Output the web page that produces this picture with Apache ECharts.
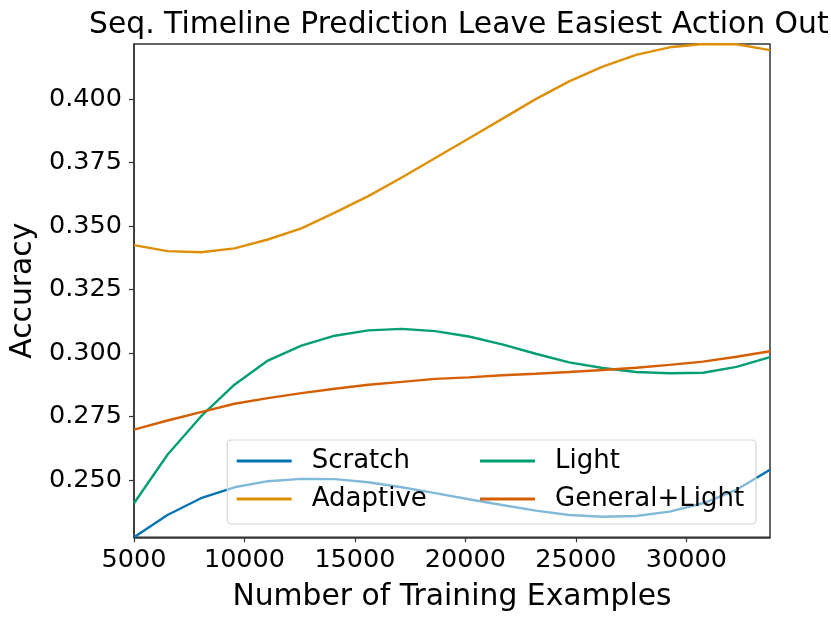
<!DOCTYPE html>
<html>
<head>
<meta charset="utf-8">
<script src="https://cdn.jsdelivr.net/npm/echarts@6/dist/echarts.min.js"></script>
<style>html,body{margin:0;padding:0;background:#fff}#c{width:831px;height:622px}</style>
</head>
<body>
<div id="c"></div>
<script>
const xValues = [5000, 6515, 8030, 9545, 11060, 12575, 14090, 15605, 17120, 18635, 20150, 21665, 23180, 24695, 26210, 27725, 29240, 30755, 32270, 33785];
const scratch = [0.2274, 0.2362, 0.2428, 0.2471, 0.2495, 0.2504, 0.2503, 0.2491, 0.2471, 0.2448, 0.2424, 0.2401, 0.2379, 0.2362, 0.2355, 0.2358, 0.2375, 0.2408, 0.2461, 0.2540];
const adaptive = [0.3425, 0.3401, 0.3397, 0.3412, 0.3447, 0.3491, 0.3553, 0.3618, 0.3691, 0.3768, 0.3845, 0.3922, 0.4000, 0.4070, 0.4128, 0.4174, 0.4204, 0.4217, 0.4216, 0.4193];
const light = [0.2408, 0.2599, 0.2750, 0.2875, 0.2970, 0.3029, 0.3068, 0.3089, 0.3095, 0.3086, 0.3065, 0.3034, 0.2997, 0.2963, 0.2941, 0.2925, 0.2920, 0.2922, 0.2945, 0.2984];
const generalLight = [0.2698, 0.2734, 0.2767, 0.2800, 0.2822, 0.2842, 0.2859, 0.2875, 0.2886, 0.2898, 0.2904, 0.2912, 0.2918, 0.2925, 0.2933, 0.2942, 0.2953, 0.2966, 0.2985, 0.3007];
const xTicks = [5000, 10000, 15000, 20000, 25000, 30000];
const yTicks = [0.250, 0.275, 0.300, 0.325, 0.350, 0.375, 0.400];
const seriesNames = ['Scratch', 'Adaptive', 'Light', 'General+Light'];
const colors = ['#0173b2', '#de8f05', '#029e73', '#d55e00'];
const allSeries = [scratch, adaptive, light, generalLight];

const FONT = 'DejaVu Sans';
const allVals = allSeries.flat();
const yMin = Math.min(...allVals), yMax = Math.max(...allVals);

const chart = echarts.init(document.getElementById('c'), null, {renderer: 'canvas'});
chart.setOption({
  animation: false,
  backgroundColor: '#fff',
  title: {
    text: 'Seq. Timeline Prediction Leave Easiest Action Out',
    left: 84, top: 5,
    textStyle: {fontFamily: FONT, fontSize: 29.8, fontWeight: 'normal', color: '#000'}
  },
  grid: {left: 134, top: 44, width: 636, height: 493.3, show: true, borderColor: '#333', borderWidth: 1.5, containLabel: false},
  xAxis: {
    type: 'value', min: xValues[0], max: xValues[xValues.length - 1],
    name: 'Number of Training Examples', nameLocation: 'middle', nameGap: 45,
    nameTextStyle: {fontFamily: FONT, fontSize: 29.8, color: '#000'},
    axisLine: {show: true, lineStyle: {color: '#333', width: 1.5}},
    axisTick: {show: true, inside: false, length: 5, lineStyle: {color: '#333', width: 1.2}, customValues: xTicks},
    axisLabel: {fontFamily: FONT, fontSize: 25.5, color: '#000', margin: 10, customValues: xTicks, formatter: v => String(v)},
    splitLine: {show: false}
  },
  yAxis: {
    type: 'value', min: yMin, max: yMax,
    name: 'Accuracy', nameLocation: 'middle', nameGap: 94, nameRotate: 90,
    nameTextStyle: {fontFamily: FONT, fontSize: 29.8, color: '#000'},
    axisLine: {show: true, lineStyle: {color: '#333', width: 1.5}},
    axisTick: {show: true, inside: false, length: 5, lineStyle: {color: '#333', width: 1.2}, customValues: yTicks},
    axisLabel: {fontFamily: FONT, fontSize: 25.5, color: '#000', margin: 12, customValues: yTicks, formatter: v => v.toFixed(3)},
    splitLine: {show: false}
  },
  legend: [
    {
      data: [seriesNames[0], seriesNames[1]], orient: 'vertical', left: 236.7, top: 442, padding: 0, itemGap: 0,
      itemWidth: 55, itemHeight: 2.8, icon: 'rect', z: 10,
      textStyle: {fontFamily: FONT, fontSize: 26, color: '#000', lineHeight: 38, padding: [0, 0, 0, 15]}
    },
    {
      data: [seriesNames[2], seriesNames[3]], orient: 'vertical', left: 480, top: 442, padding: 0, itemGap: 0,
      itemWidth: 55, itemHeight: 2.8, icon: 'rect', z: 10,
      textStyle: {fontFamily: FONT, fontSize: 26, color: '#000', lineHeight: 38, padding: [0, 0, 0, 15]}
    }
  ],
  graphic: [{
    type: 'rect', z: 5,
    shape: {x: 227.3, y: 440, width: 528.7, height: 84, r: 4},
    style: {fill: 'rgba(255,255,255,0.5)', stroke: '#d4d4d4', lineWidth: 1.2}
  }],
  series: allSeries.map((vals, i) => ({
    name: seriesNames[i], type: 'line', showSymbol: false, symbol: 'none', z: 2,
    data: vals.map((v, j) => [xValues[j], v]),
    lineStyle: {color: colors[i], width: 2.4}, itemStyle: {color: colors[i]},
    emphasis: {disabled: true}
  }))
});
</script>
</body>
</html>
